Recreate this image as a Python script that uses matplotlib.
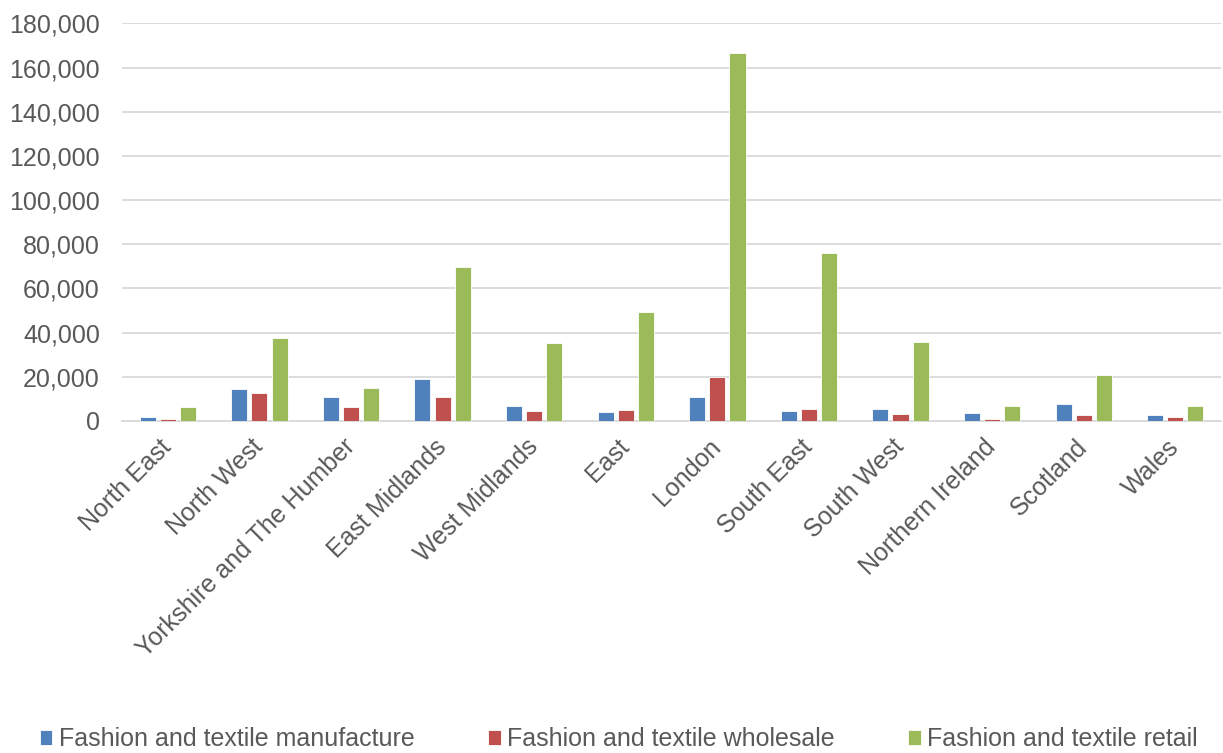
import numpy as np
import matplotlib
matplotlib.use("Agg")
import matplotlib.pyplot as plt
from matplotlib.ticker import FuncFormatter

# valeurs
regions = ["North East", "North West", "Yorkshire and The Humber", "East Midlands",
           "West Midlands", "East", "London", "South East", "South West",
           "Northern Ireland", "Scotland", "Wales"]
manufacture = [1700, 14300, 10900, 19100, 6600, 4000, 10900, 4700, 5200, 3500, 7600, 2600]
wholesale = [1000, 12800, 6200, 10900, 4500, 4900, 19900, 5200, 3100, 1000, 2600, 1700]
retail = [6500, 37500, 15100, 69500, 35500, 49200, 166400, 76000, 35900, 6600, 20700, 6800]
series_names = ["Fashion and textile manufacture", "Fashion and textile wholesale",
                "Fashion and textile retail"]

plt.rcParams['font.family'] = ['Liberation Sans', 'DejaVu Sans']
couleurs = ['#4F81BD', '#C0504D', '#9BBB59']
gris = '#595959'

fig = plt.figure(figsize=(12.23, 7.53), dpi=100)
ax = fig.add_axes([0.0998, 0.441, 0.8986, 0.528])

x = np.arange(len(regions))
w = 0.175
pas = 0.22
for k, vals in enumerate([manufacture, wholesale, retail]):
    ax.bar(x + (k - 1) * pas, vals, w, color=couleurs[k], edgecolor='white',
           linewidth=0.6, label=series_names[k], zorder=3)

ax.set_ylim(0, 180000)
ax.set_yticks(np.arange(0, 180001, 20000))
ax.yaxis.set_major_formatter(FuncFormatter(lambda v, p: f"{int(v):,}"))
ax.set_xlim(-0.5, len(regions) - 0.5)
ax.set_xticks(x)
ax.set_xticklabels(regions, rotation=45, ha='right', va='center', rotation_mode='anchor')
ax.grid(axis='y', color='#D9D9D9', linewidth=1.3, zorder=0)
for s in ['top', 'right', 'left']:
    ax.spines[s].set_visible(False)
ax.spines['bottom'].set_color('#D9D9D9')
ax.spines['bottom'].set_linewidth(1.3)
ax.tick_params(axis='both', length=0, labelsize=18, colors=gris)
ax.tick_params(axis='x', pad=16)
ax.tick_params(axis='y', pad=16)

fig.legend(loc='center', bbox_to_anchor=(0.506, 0.018), ncol=3, frameon=False,
           fontsize=18, handlelength=0.5, handleheight=0.5, handletextpad=0.25,
           columnspacing=2.95, labelcolor=gris)

fig.savefig("out.png", dpi=100)
